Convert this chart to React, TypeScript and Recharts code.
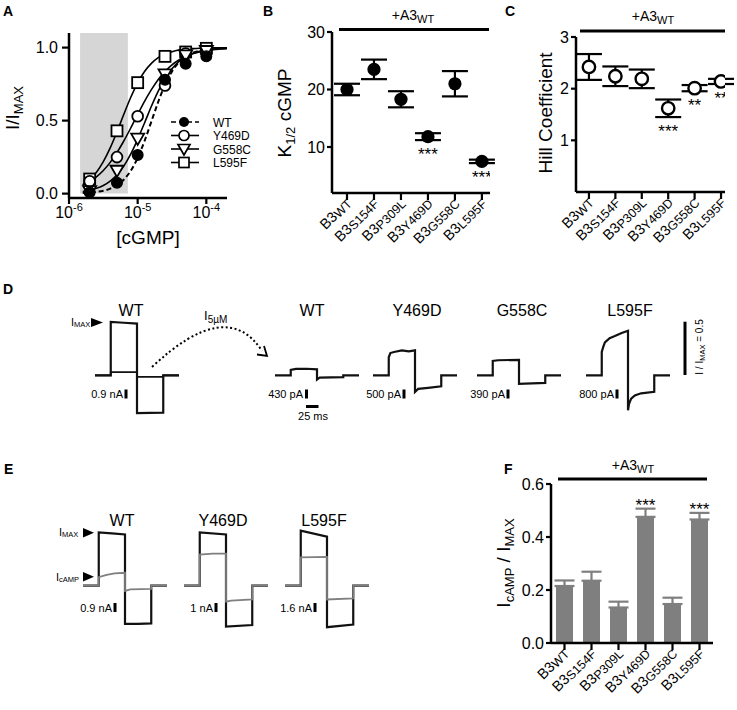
import React from 'react';
import {
  ComposedChart,
  LineChart,
  Line,
  Scatter,
  Bar,
  XAxis,
  YAxis,
  ErrorBar,
  ReferenceArea,
} from 'recharts';

const FONT = '"Liberation Sans", Arial, Helvetica, sans-serif';
const GRAY = '#7f7f7f';
const BLACK = '#000';

// ---------------- Panel A : dose-response ----------------
const concA = [2e-6, 5e-6, 1e-5, 2.5e-5, 5e-5, 1e-4];
const wtA = [0.01, 0.075, 0.265, 0.78, 0.89, 0.94];
const y469dA = [0.085, 0.25, 0.53, 0.74, 0.96, 0.97];
const g558cA = [0.02, 0.16, 0.38, 0.82, 0.95, 0.98];
const l595fA = [0.1, 0.43, 0.76, 0.94, 0.97, 0.995];

const fitConc = [
  1.585e-6, 1.995e-6, 2.512e-6, 3.162e-6, 3.981e-6, 5.012e-6, 6.31e-6, 7.943e-6,
  1.0e-5, 1.259e-5, 1.585e-5, 1.995e-5, 2.512e-5, 3.162e-5, 3.981e-5, 5.012e-5,
  6.31e-5, 7.943e-5, 1.0e-4, 1.259e-4, 1.585e-4, 1.995e-4,
];
const wtFit = [0.004, 0.007, 0.012, 0.02, 0.034, 0.058, 0.097, 0.157, 0.245, 0.36, 0.494, 0.629, 0.747, 0.837, 0.899, 0.939, 0.964, 0.979, 0.988, 0.993, 0.996, 0.998];
const y469dFit = [0.059, 0.083, 0.115, 0.158, 0.214, 0.282, 0.362, 0.45, 0.542, 0.632, 0.712, 0.782, 0.838, 0.882, 0.915, 0.94, 0.958, 0.97, 0.979, 0.986, 0.99, 0.993];
const g558cFit = [0.015, 0.023, 0.036, 0.056, 0.086, 0.129, 0.19, 0.272, 0.372, 0.484, 0.598, 0.702, 0.789, 0.855, 0.904, 0.937, 0.959, 0.974, 0.983, 0.989, 0.993, 0.996];
const l595fFit = [0.062, 0.096, 0.147, 0.219, 0.313, 0.425, 0.545, 0.66, 0.759, 0.836, 0.892, 0.931, 0.956, 0.972, 0.983, 0.989, 0.993, 0.996, 0.997, 0.998, 0.999, 0.999];

const shadeA = [1.45e-6, 7.2e-6];
const xTicksA = [1e-6, 1e-5, 1e-4];
const yTicksA = [0, 0.5, 1.0];
const legendA = ['WT', 'Y469D', 'G558C', 'L595F'];

// ---------------- Panels B, C, F ----------------
const categories = ['B3WT', 'B3S154F', 'B3P309L', 'B3Y469D', 'B3G558C', 'B3L595F'];

const k12 = [20.0, 23.5, 18.3, 11.8, 21.0, 7.5];
const k12Err = [1.0, 1.7, 1.4, 0.6, 2.2, 0.3];
const k12Sig = ['', '', '', '***', '', '***'];
const yTicksB = [10, 20, 30];

const hill = [2.42, 2.24, 2.19, 1.62, 2.01, 2.14];
const hillErr = [0.25, 0.19, 0.18, 0.17, 0.06, 0.05];
const hillSig = ['', '', '', '***', '**', '**'];
const yTicksC = [1, 2, 3];

const ratio = [0.215, 0.235, 0.134, 0.476, 0.147, 0.466];
const ratioErr = [0.021, 0.034, 0.022, 0.031, 0.024, 0.025];
const ratioSig = ['', '', '', '***', '', '***'];
const yTicksF = [0, 0.2, 0.4, 0.6];

// ---------------- Panels D, E : current traces [time ms, normalized current] ----------------
const timeDomain = [-30, 130];
const dWtMax: number[][] = [[-30, 0], [0, 0], [0, 0.503], [25, 0.496], [50, 0.488], [50, -0.356], [75, -0.355], [100, -0.352], [100, 0], [130, 0]];
const dWtLow5: number[][] = [[-30, 0], [0, 0], [0, 0.03], [50, 0.03], [50, -0.015], [100, -0.015], [100, 0], [130, 0]];
const dWt5: number[][] = [[-30, 0], [0, 0], [0, 0.05], [10, 0.06], [30, 0.062], [50, 0.056], [50, -0.04], [55, -0.022], [100, -0.018], [100, 0], [130, 0]];
const dY469d5: number[][] = [[-30, 0], [0, 0], [0, 0.17], [3, 0.21], [10, 0.22], [25, 0.235], [38, 0.225], [50, 0.235], [50, -0.157], [56, -0.128], [75, -0.118], [100, -0.104], [100, 0], [130, 0]];
const dG558c5: number[][] = [[-30, 0], [0, 0], [0, 0.135], [10, 0.142], [50, 0.146], [50, -0.08], [75, -0.076], [100, -0.072], [100, 0], [130, 0]];
const dL595f5: number[][] = [[-30, 0], [0, 0], [0, 0.22], [3, 0.27], [6, 0.31], [15, 0.35], [25, 0.37], [38, 0.4], [50, 0.42], [50, -0.33], [52, -0.27], [56, -0.22], [63, -0.19], [75, -0.17], [100, -0.155], [100, 0], [130, 0]];

const eWtMax: number[][] = [[-30, 0], [0, 0], [0, 1.0], [25, 0.98], [50, 0.96], [50, -0.72], [75, -0.72], [100, -0.71], [100, 0], [130, 0]];
const eWtCamp: number[][] = [[-30, 0], [0, 0], [0, 0.16], [15, 0.2], [30, 0.23], [50, 0.24], [50, -0.1], [60, -0.07], [100, -0.06], [100, 0], [130, 0]];
const eY469dMax: number[][] = [[-30, 0], [0, 0], [0, 1.0], [50, 0.96], [50, -0.77], [100, -0.74], [100, 0], [130, 0]];
const eY469dCamp: number[][] = [[-30, 0], [0, 0], [0, 0.58], [25, 0.6], [50, 0.6], [50, -0.3], [60, -0.28], [100, -0.26], [100, 0], [130, 0]];
const eL595fMax: number[][] = [[-30, 0], [0, 0], [0, 1.03], [50, 0.92], [50, -0.78], [100, -0.73], [100, 0], [130, 0]];
const eL595fCamp: number[][] = [[-30, 0], [0, 0], [0, 0.53], [50, 0.54], [50, -0.26], [100, -0.24], [100, 0], [130, 0]];

// ---------------- helpers ----------------
const pts = (xs: number[], ys: number[]) => xs.map((x, i) => ({ x, y: ys[i] }));
const trace = (arr: number[][]) => arr.map(([t, v]) => ({ t, v }));

const axisLine = { stroke: BLACK, strokeWidth: 2.5 };
const tickLine = { stroke: BLACK, strokeWidth: 2.2 };
const tickStyle = { fill: BLACK, fontSize: 16, fontFamily: FONT };

const Nothing = () => <g />;
const FilledCircle = (p: any) => <circle cx={p.cx} cy={p.cy} r={5.4} fill={BLACK} stroke={BLACK} strokeWidth={1.2} />;
const OpenCircle = (p: any) => <circle cx={p.cx} cy={p.cy} r={5.4} fill="#fff" stroke={BLACK} strokeWidth={1.8} />;
const TriDown = (p: any) => (
  <polygon points={`${p.cx - 6.5},${p.cy - 4.5} ${p.cx + 6.5},${p.cy - 4.5} ${p.cx},${p.cy + 6.8}`} fill="#fff" stroke={BLACK} strokeWidth={1.8} />
);
const OpenSquare = (p: any) => <rect x={p.cx - 5.5} y={p.cy - 5.5} width={11} height={11} fill="#fff" stroke={BLACK} strokeWidth={1.8} />;
const BigFilled = (p: any) => <circle cx={p.cx} cy={p.cy} r={6.6} fill={BLACK} />;
const BigOpen = (p: any) => <circle cx={p.cx} cy={p.cy} r={6.2} fill="#fff" stroke={BLACK} strokeWidth={2.4} />;
const StarBelow = (p: any) => (
  <text x={p.cx} y={p.cy + 20} textAnchor="middle" fontSize={17} fontFamily={FONT} fill={BLACK}>
    {p.payload.sig}
  </text>
);

const BarWithStar = (p: any) => {
  const { x, y, width, height, payload } = p;
  const errPx = payload.y > 0 ? (payload.e / payload.y) * height : 0;
  return (
    <g>
      <rect x={x} y={y} width={width} height={height} fill={GRAY} />
      {payload.sig ? (
        <text x={x + width / 2} y={y - errPx + 2} textAnchor="middle" fontSize={17} fontFamily={FONT} fill={BLACK}>
          {payload.sig}
        </text>
      ) : null}
    </g>
  );
};

const LogTick = (p: any) => {
  const e = Math.round(Math.log10(p.payload.value));
  return (
    <text x={p.x} y={p.y + 12} textAnchor="middle" fontSize={16} fontFamily={FONT} fill={BLACK}>
      10<tspan fontSize={11} dy={-7}>{String(e)}</tspan>
    </text>
  );
};

const CatTick = (p: any) => {
  const label = categories[p.payload.value] || '';
  return (
    <g transform={`translate(${p.x + 5},${p.y + 2})`}>
      <text transform="rotate(-45)" textAnchor="end" fontSize={14.5} fontFamily={FONT} fill={BLACK}>
        {label.slice(0, 2)}
        <tspan fontSize={12.5} dy={1}>{label.slice(2)}</tspan>
      </text>
    </g>
  );
};

const TraceChart = ({ left, top, height, domain, lines }: any) => (
  <div style={{ position: 'absolute', left, top }}>
    <LineChart width={84} height={height} margin={{ top: 0, right: 0, bottom: 0, left: 0 }}>
      <XAxis dataKey="t" type="number" domain={timeDomain} hide allowDataOverflow />
      <YAxis type="number" domain={domain} hide allowDataOverflow />
      {lines.map((l: any, i: number) => (
        <Line
          key={i}
          data={trace(l.pts)}
          dataKey="v"
          type="linear"
          stroke={l.color}
          strokeWidth={l.w}
          dot={false}
          isAnimationActive={false}
          strokeLinejoin="miter"
        />
      ))}
    </LineChart>
  </div>
);

const dDomain = [-0.45, 0.55];
const eDomain = [-0.85, 1.1];

const Sub = ({ children, size, dy }: any) => (
  <tspan fontSize={size} dy={dy}>{children}</tspan>
);

export default function App() {
  const bData = k12.map((v, i) => ({ x: i, y: v, err: k12Err[i] }));
  const bStars = k12.map((v, i) => ({ x: i, y: v - k12Err[i], sig: k12Sig[i] })).filter((d) => d.sig);
  const cData = hill.map((v, i) => ({ x: i, y: v, err: hillErr[i] }));
  const cStars = hill.map((v, i) => ({ x: i, y: v - hillErr[i], sig: hillSig[i] })).filter((d) => d.sig);
  const fData = ratio.map((v, i) => ({ x: i, y: v, e: ratioErr[i], err: [0, ratioErr[i]], sig: ratioSig[i] }));

  const legendRows = [122, 135.5, 149, 162.5];
  const TW = 2.2;

  return (
    <div style={{ position: 'absolute', left: 0, top: 0, width: 737, height: 710, background: '#fff', fontFamily: FONT }}>
      {/* Panel A */}
      <div style={{ position: 'absolute', left: 0, top: 0 }}>
        <ComposedChart width={240} height={250} margin={{ top: 33, right: 13, bottom: 0, left: 0 }}>
          <XAxis
            dataKey="x"
            type="number"
            scale="log"
            domain={[1e-6, 2e-4]}
            ticks={xTicksA}
            allowDataOverflow
            height={52}
            tickSize={6}
            axisLine={axisLine}
            tickLine={tickLine}
            tick={<LogTick />}
          />
          <YAxis
            type="number"
            domain={[-0.03, 1.1]}
            ticks={yTicksA}
            width={69}
            tickSize={7}
            tickMargin={4}
            allowDataOverflow
            axisLine={axisLine}
            tickLine={tickLine}
            tick={tickStyle}
            tickFormatter={(v: number) => v.toFixed(1)}
          />
          <ReferenceArea x1={shadeA[0]} x2={shadeA[1]} y1={0} y2={1.1} fill="#d6d6d6" fillOpacity={1} stroke="none" />
          <Line data={pts(fitConc, l595fFit)} dataKey="y" type="monotone" stroke={BLACK} strokeWidth={1.6} dot={false} isAnimationActive={false} />
          <Line data={pts(fitConc, y469dFit)} dataKey="y" type="monotone" stroke={BLACK} strokeWidth={1.6} dot={false} isAnimationActive={false} />
          <Line data={pts(fitConc, g558cFit)} dataKey="y" type="monotone" stroke={BLACK} strokeWidth={1.6} dot={false} isAnimationActive={false} />
          <Line data={pts(fitConc, wtFit)} dataKey="y" type="monotone" stroke={BLACK} strokeWidth={2} strokeDasharray="5 3" dot={false} isAnimationActive={false} />
          <Scatter data={pts(concA, l595fA)} dataKey="y" shape={OpenSquare} isAnimationActive={false} />
          <Scatter data={pts(concA, y469dA)} dataKey="y" shape={OpenCircle} isAnimationActive={false} />
          <Scatter data={pts(concA, g558cA)} dataKey="y" shape={TriDown} isAnimationActive={false} />
          <Scatter data={pts(concA, wtA)} dataKey="y" shape={FilledCircle} isAnimationActive={false} />
        </ComposedChart>
      </div>

      {/* Panel B */}
      <div style={{ position: 'absolute', left: 250, top: 0 }}>
        <ComposedChart width={250} height={260} margin={{ top: 32, right: 10, bottom: 0, left: 0 }}>
          <XAxis
            dataKey="x"
            type="number"
            domain={[-0.556, 5.3]}
            ticks={[0, 1, 2, 3, 4, 5]}
            allowDataOverflow
            height={67}
            tickSize={7}
            axisLine={axisLine}
            tickLine={tickLine}
            tick={<CatTick />}
          />
          <YAxis
            type="number"
            domain={[2, 30]}
            ticks={yTicksB}
            width={82}
            tickSize={5}
            tickMargin={2}
            allowDataOverflow
            axisLine={axisLine}
            tickLine={tickLine}
            tick={tickStyle}
          />
          <Scatter data={bData} dataKey="y" shape={Nothing} isAnimationActive={false}>
            <ErrorBar dataKey="err" direction="y" width={13} strokeWidth={2.2} stroke={BLACK} />
          </Scatter>
          <Scatter data={bData} dataKey="y" shape={BigFilled} isAnimationActive={false} />
          <Scatter data={bStars} dataKey="y" shape={StarBelow} isAnimationActive={false} />
        </ComposedChart>
      </div>

      {/* Panel C */}
      <div style={{ position: 'absolute', left: 490, top: 0 }}>
        <ComposedChart width={247} height={260} margin={{ top: 37, right: 12, bottom: 0, left: 0 }}>
          <XAxis
            dataKey="x"
            type="number"
            domain={[-0.49, 5.15]}
            ticks={[0, 1, 2, 3, 4, 5]}
            allowDataOverflow
            height={68}
            tickSize={7}
            axisLine={axisLine}
            tickLine={tickLine}
            tick={<CatTick />}
          />
          <YAxis
            type="number"
            domain={[0, 3]}
            ticks={yTicksC}
            width={86}
            tickSize={5}
            tickMargin={2}
            allowDataOverflow
            axisLine={axisLine}
            tickLine={tickLine}
            tick={tickStyle}
          />
          <Scatter data={cData} dataKey="y" shape={Nothing} isAnimationActive={false}>
            <ErrorBar dataKey="err" direction="y" width={13} strokeWidth={2.2} stroke={BLACK} />
          </Scatter>
          <Scatter data={cData} dataKey="y" shape={BigOpen} isAnimationActive={false} />
          <Scatter data={cStars} dataKey="y" shape={StarBelow} isAnimationActive={false} />
        </ComposedChart>
      </div>

      {/* Panel F */}
      <div style={{ position: 'absolute', left: 470, top: 460 }}>
        <ComposedChart width={267} height={250} data={fData} margin={{ top: 24, right: 24, bottom: 0, left: 0 }}>
          <XAxis
            dataKey="x"
            type="category"
            interval={0}
            height={67}
            tickSize={7}
            axisLine={axisLine}
            tickLine={tickLine}
            tick={<CatTick />}
          />
          <YAxis
            type="number"
            domain={[0, 0.6]}
            ticks={yTicksF}
            width={81}
            tickSize={5}
            tickMargin={2}
            allowDataOverflow
            axisLine={axisLine}
            tickLine={tickLine}
            tick={tickStyle}
            tickFormatter={(v: number) => v.toFixed(1)}
          />
          <Bar dataKey="y" barSize={17} fill={GRAY} shape={BarWithStar} isAnimationActive={false}>
            <ErrorBar dataKey="err" direction="y" width={10} strokeWidth={2.2} stroke={GRAY} />
          </Bar>
        </ComposedChart>
      </div>

      {/* Panel D traces */}
      <TraceChart left={95} top={316.7} height={106} domain={dDomain} lines={[
        { pts: dWtMax, color: '#111', w: TW },
        { pts: dWtLow5, color: '#111', w: 1.7 },
      ]} />
      <TraceChart left={275} top={316.7} height={106} domain={dDomain} lines={[{ pts: dWt5, color: '#111', w: TW }]} />
      <TraceChart left={373} top={316.7} height={106} domain={dDomain} lines={[{ pts: dY469d5, color: '#111', w: TW }]} />
      <TraceChart left={477} top={316.7} height={106} domain={dDomain} lines={[{ pts: dG558c5, color: '#111', w: TW }]} />
      <TraceChart left={586} top={316.7} height={106} domain={dDomain} lines={[{ pts: dL595f5, color: '#111', w: TW }]} />

      {/* Panel E traces */}
      <TraceChart left={83} top={527.4} height={103.9} domain={eDomain} lines={[
        { pts: eWtMax, color: '#111', w: TW },
        { pts: eWtCamp, color: GRAY, w: 1.8 },
      ]} />
      <TraceChart left={184.3} top={527.4} height={103.9} domain={eDomain} lines={[
        { pts: eY469dMax, color: '#111', w: TW },
        { pts: eY469dCamp, color: GRAY, w: 1.8 },
      ]} />
      <TraceChart left={285} top={527.4} height={103.9} domain={eDomain} lines={[
        { pts: eL595fMax, color: '#111', w: TW },
        { pts: eL595fCamp, color: GRAY, w: 1.8 },
      ]} />

      {/* Annotation overlay */}
      <svg width={737} height={710} style={{ position: 'absolute', left: 0, top: 0, pointerEvents: 'none' }} fontFamily={FONT}>
        {/* panel letters */}
        <g fontSize={14} fontWeight="bold" fill={BLACK}>
          <text x={3} y={16}>A</text>
          <text x={263} y={16}>B</text>
          <text x={505} y={16}>C</text>
          <text x={3} y={294}>D</text>
          <text x={4} y={474}>E</text>
          <text x={504} y={474}>F</text>
        </g>

        {/* Panel A titles */}
        <text transform="translate(19,108) rotate(-90)" textAnchor="middle" fontSize={19} fill={BLACK}>
          I/I<Sub size={13} dy={4}>MAX</Sub>
        </text>
        <text x={148} y={244} textAnchor="middle" fontSize={19} fill={BLACK}>[cGMP]</text>

        {/* Panel A legend */}
        {legendRows.map((ry, i) => (
          <g key={legendA[i]}>
            <line x1={171} x2={199} y1={ry} y2={ry} stroke={BLACK} strokeWidth={1.6} strokeDasharray={i === 0 ? '5 3' : undefined} />
            {i === 0 && <circle cx={184} cy={ry} r={5} fill={BLACK} />}
            {i === 1 && <circle cx={184} cy={ry} r={5} fill="#fff" stroke={BLACK} strokeWidth={1.7} />}
            {i === 2 && <polygon points={`${178},${ry - 4.5} ${190},${ry - 4.5} ${184},${ry + 6}`} fill="#fff" stroke={BLACK} strokeWidth={1.7} />}
            {i === 3 && <rect x={179} y={ry - 5} width={10} height={10} fill="#fff" stroke={BLACK} strokeWidth={1.7} />}
            <text x={213} y={ry + 4.5} fontSize={12} fill={BLACK}>{legendA[i]}</text>
          </g>
        ))}

        {/* Panel B titles */}
        <text transform="translate(291,113) rotate(-90)" textAnchor="middle" fontSize={19} fill={BLACK}>
          K<Sub size={13} dy={4}>1/2</Sub><tspan dy={-4}> cGMP</tspan>
        </text>
        <line x1={339} x2={489} y1={29.5} y2={29.5} stroke={BLACK} strokeWidth={3} />
        <text x={413} y={20} textAnchor="middle" fontSize={14} fill={BLACK}>
          +A3<Sub size={11} dy={3}>WT</Sub>
        </text>

        {/* Panel C titles */}
        <text transform="translate(552,113) rotate(-90)" textAnchor="middle" fontSize={19} fill={BLACK}>Hill Coefficient</text>
        <line x1={580} x2={725} y1={31} y2={31} stroke={BLACK} strokeWidth={3} />
        <text x={653} y={21} textAnchor="middle" fontSize={14} fill={BLACK}>
          +A3<Sub size={11} dy={3}>WT</Sub>
        </text>

        {/* Panel F titles */}
        <text transform="translate(510,563) rotate(-90)" textAnchor="middle" fontSize={19} fill={BLACK}>
          I<Sub size={13} dy={4}>cAMP</Sub><tspan dy={-4}> / I</tspan><Sub size={13} dy={4}>MAX</Sub>
        </text>
        <line x1={558} x2={707} y1={479} y2={479} stroke={BLACK} strokeWidth={3} />
        <text x={633} y={470} textAnchor="middle" fontSize={14} fill={BLACK}>
          +A3<Sub size={11} dy={3}>WT</Sub>
        </text>

        {/* Panel D annotations */}
        <g fontSize={16} fill={BLACK} textAnchor="middle">
          <text x={131} y={316}>WT</text>
          <text x={312} y={316}>WT</text>
          <text x={417} y={316}>Y469D</text>
          <text x={522} y={316}>G558C</text>
          <text x={630} y={316}>L595F</text>
        </g>
        <text x={71} y={326} fontSize={11} fill={BLACK}>
          I<Sub size={7.5} dy={1}>MAX</Sub>
        </text>
        <polygon points="91,318 91,327 103,322.5" fill={BLACK} />
        <g fontSize={11} fill={BLACK} textAnchor="end">
          <text x={123} y={398}>0.9 nA</text>
          <text x={303} y={398}>430 pA</text>
          <text x={401} y={398}>500 pA</text>
          <text x={505} y={398}>390 pA</text>
          <text x={614} y={398}>800 pA</text>
        </g>
        <g fill={BLACK}>
          <rect x={124.5} y={389.5} width={3} height={9} />
          <rect x={305} y={389.5} width={3} height={9} />
          <rect x={402.5} y={389.5} width={3} height={9} />
          <rect x={506.5} y={389.5} width={3} height={9} />
          <rect x={615.5} y={389.5} width={3} height={9} />
          <rect x={306} y={405} width={12.5} height={3} />
          <rect x={683.5} y={321.7} width={3} height={53.3} />
        </g>
        <text x={313} y={420} textAnchor="middle" fontSize={11} fill={BLACK}>25 ms</text>
        <path d="M152,367 Q227,296.5 262,351" fill="none" stroke={BLACK} strokeWidth={2} strokeDasharray="2 2.5" />
        <polyline points="257,354.5 267,356 264,346" fill="none" stroke={BLACK} strokeWidth={1.8} />
        <text x={204} y={320} fontSize={13} fill={BLACK}>
          I<Sub size={10} dy={3}>5µM</Sub>
        </text>
        <text transform="translate(703,347) rotate(-90)" textAnchor="middle" fontSize={10} fill={BLACK}>
          I / I<Sub size={7.5} dy={2}>MAX</Sub><tspan dy={-2}> = 0.5</tspan>
        </text>

        {/* Panel E annotations */}
        <g fontSize={16} fill={BLACK} textAnchor="middle">
          <text x={122} y={526}>WT</text>
          <text x={223} y={526}>Y469D</text>
          <text x={324} y={526}>L595F</text>
        </g>
        <text x={59} y={536} fontSize={11} fill={BLACK}>
          I<Sub size={7.5} dy={1}>MAX</Sub>
        </text>
        <polygon points="83,528 83,537.5 94,532.7" fill={BLACK} />
        <text x={56} y={581} fontSize={11} fill={BLACK}>
          I<Sub size={7.5} dy={1}>cAMP</Sub>
        </text>
        <polygon points="83,572 83,581.5 94,576.7" fill={BLACK} />
        <g fontSize={11} fill={BLACK} textAnchor="end">
          <text x={112} y={612}>0.9 nA</text>
          <text x={213} y={612}>1 nA</text>
          <text x={312} y={612}>1.6 nA</text>
        </g>
        <g fill={BLACK}>
          <rect x={113.5} y={603} width={3} height={9} />
          <rect x={214.5} y={603} width={3} height={9} />
          <rect x={313.5} y={603} width={3} height={9} />
        </g>
      </svg>
    </div>
  );
}
